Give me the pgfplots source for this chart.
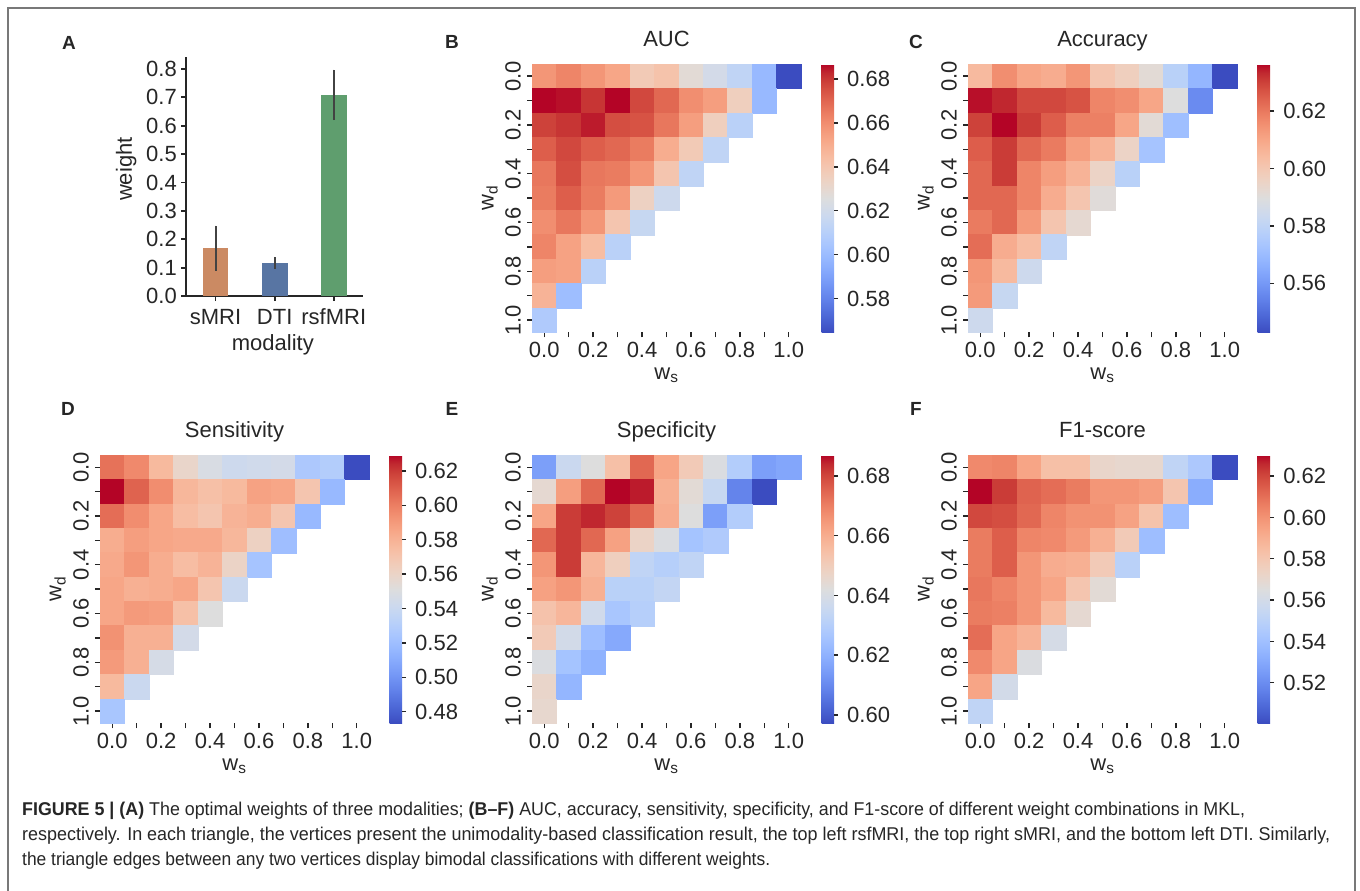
\documentclass[border=0pt]{standalone}
\usepackage{fontspec}
\setmainfont{Liberation Sans}
\usepackage{graphicx}
\usepackage{pgfplots}
\pgfplotsset{compat=1.18}
\usepackage{pgfplotstable}

\definecolor{txt}{RGB}{38,38,38}
\definecolor{barS}{RGB}{203,138,99}
\definecolor{barD}{RGB}{88,117,163}
\definecolor{barR}{RGB}{95,158,110}
\definecolor{errc}{RGB}{66,66,66}
\definecolor{framec}{RGB}{120,120,120}

\pgfkeys{/pgf/number format/assume math mode=true}

\pgfplotsset{
  colormap={coolwarm}{rgb255=(59,76,192) rgb255=(68,90,204) rgb255=(77,104,215) rgb255=(87,117,225)
    rgb255=(98,130,234) rgb255=(108,142,241) rgb255=(119,154,247) rgb255=(130,165,251)
    rgb255=(141,176,254) rgb255=(152,185,255) rgb255=(163,194,255) rgb255=(174,201,253)
    rgb255=(184,208,249) rgb255=(194,213,244) rgb255=(204,217,238) rgb255=(213,219,230)
    rgb255=(221,221,221) rgb255=(229,216,209) rgb255=(236,211,197) rgb255=(241,204,185)
    rgb255=(245,196,173) rgb255=(247,187,160) rgb255=(247,177,148) rgb255=(247,166,135)
    rgb255=(244,154,123) rgb255=(241,141,111) rgb255=(236,127,99) rgb255=(229,112,88)
    rgb255=(222,96,77) rgb255=(213,80,66) rgb255=(203,62,56) rgb255=(192,40,47) rgb255=(180,4,38)},
  hm/.style={
    scale only axis, width=269pt, height=268.3pt, anchor=north west,
    xmin=-0.5, xmax=10.5, ymin=-10.5, ymax=0.5,
    axis line style={draw=none},
    xtick={0,...,10}, xticklabels={0.0,,0.2,,0.4,,0.6,,0.8,,1.0},
    ytick={-10,...,0}, yticklabels={1.0,,0.8,,0.6,,0.4,,0.2,,0.0},
    tick pos=left, tick align=outside, major tick length=5pt,
    tick style={line width=1.4pt, color=txt},
    tick label style={font=\fontsize{22}{26}\selectfont, text=txt, inner sep=0pt},
    xticklabel style={anchor=center, yshift=-12.7pt},
    yticklabel style={xshift=-14pt, rotate=90, anchor=center},
    xlabel={w\textsubscript{s}}, ylabel={w\textsubscript{d}},
    label style={font=\fontsize{22}{26}\selectfont, text=txt},
    xlabel style={at={(axis description cs:0.5,-0.16)}, anchor=center},
    ylabel style={at={(axis description cs:-0.157,0.5)}, anchor=center},
    title style={font=\fontsize{22}{26}\selectfont, text=txt,
      at={(axis description cs:0.5,1)}, anchor=base, yshift=12pt},
    colorbar,
    colorbar style={scale only axis, width=12.5pt, height=268.3pt,
      at={(parent axis.north east)}, anchor=north west, xshift=12pt,
      axis line style={draw=none}, ytick pos=right, yticklabel pos=right,
      tick align=outside, major tick length=4pt,
      tick style={line width=1.4pt, color=txt},
      yticklabel style={font=\fontsize{22}{26}\selectfont, text=txt, inner sep=0pt,
        anchor=west, xshift=9pt,
        /pgf/number format/fixed, /pgf/number format/fixed zerofill,
        /pgf/number format/precision=2}},
  },
  cells/.style={scatter, only marks, mark=square*, mark size=12.3pt,
    mark options={line width=0.3pt},
    scatter/use mapped color={draw=mapped color, fill=mapped color}},
}

% c = w_s index, r = w_d index, v = score
\pgfplotstableread[row sep=\\]{c r v\\
0 0 0.6575\\ 1 0 0.6624\\ 2 0 0.6575\\ 3 0 0.6526\\ 4 0 0.6380\\ 5 0 0.6416\\ 6 0 0.6282\\ 7 0 0.6209\\ 8 0 0.6135\\ 9 0 0.5989\\ 10 0 0.5647\\
0 1 0.6868\\ 1 1 0.6856\\ 2 1 0.6807\\ 3 1 0.6868\\ 4 1 0.6770\\ 5 1 0.6697\\ 6 1 0.6599\\ 7 1 0.6551\\ 8 1 0.6355\\ 9 1 0.5989\\
0 2 0.6783\\ 1 2 0.6807\\ 2 2 0.6844\\ 3 2 0.6758\\ 4 2 0.6746\\ 5 2 0.6660\\ 6 2 0.6551\\ 7 2 0.6355\\ 8 2 0.6111\\
0 3 0.6721\\ 1 3 0.6770\\ 2 3 0.6721\\ 3 3 0.6697\\ 4 3 0.6648\\ 5 3 0.6502\\ 6 3 0.6380\\ 7 3 0.6135\\
0 4 0.6660\\ 1 4 0.6758\\ 2 4 0.6660\\ 3 4 0.6648\\ 4 4 0.6575\\ 5 4 0.6404\\ 6 4 0.6135\\
0 5 0.6648\\ 1 5 0.6721\\ 2 5 0.6648\\ 3 5 0.6563\\ 4 5 0.6343\\ 5 5 0.6184\\
0 6 0.6599\\ 1 6 0.6660\\ 2 6 0.6575\\ 3 6 0.6404\\ 4 6 0.6160\\
0 7 0.6624\\ 1 7 0.6538\\ 2 7 0.6441\\ 3 7 0.6111\\
0 8 0.6551\\ 1 8 0.6538\\ 2 8 0.6111\\
0 9 0.6477\\ 1 9 0.6013\\
0 10 0.6074\\
}\tabAUC

\pgfplotstableread[row sep=\\]{c r v\\
0 0 0.6046\\ 1 0 0.6158\\ 2 0 0.6102\\ 3 0 0.6084\\ 4 0 0.6140\\ 5 0 0.6009\\ 6 0 0.5971\\ 7 0 0.5915\\ 8 0 0.5784\\ 9 0 0.5681\\ 10 0 0.5429\\
0 1 0.6355\\ 1 1 0.6336\\ 2 1 0.6289\\ 3 1 0.6289\\ 4 1 0.6271\\ 5 1 0.6177\\ 6 1 0.6158\\ 7 1 0.6102\\ 8 1 0.5897\\ 9 1 0.5569\\
0 2 0.6299\\ 1 2 0.6364\\ 2 2 0.6308\\ 3 2 0.6252\\ 4 2 0.6186\\ 5 2 0.6186\\ 6 2 0.6102\\ 7 2 0.5915\\ 8 2 0.5710\\
0 3 0.6252\\ 1 3 0.6308\\ 2 3 0.6233\\ 3 3 0.6196\\ 4 3 0.6121\\ 5 3 0.6065\\ 6 3 0.5953\\ 7 3 0.5728\\
0 4 0.6233\\ 1 4 0.6308\\ 2 4 0.6177\\ 3 4 0.6121\\ 4 4 0.6065\\ 5 4 0.5953\\ 6 4 0.5784\\
0 5 0.6233\\ 1 5 0.6233\\ 2 5 0.6177\\ 3 5 0.6084\\ 4 5 0.6009\\ 5 5 0.5906\\
0 6 0.6196\\ 1 6 0.6233\\ 2 6 0.6130\\ 3 6 0.6009\\ 4 6 0.5925\\
0 7 0.6224\\ 1 7 0.6084\\ 2 7 0.6037\\ 3 7 0.5803\\
0 8 0.6140\\ 1 8 0.6046\\ 2 8 0.5840\\
0 9 0.6130\\ 1 9 0.5822\\
0 10 0.5840\\
}\tabACC

\pgfplotstableread[row sep=\\]{c r v\\
0 0 0.6043\\ 1 0 0.5965\\ 2 0 0.5763\\ 3 0 0.5591\\ 4 0 0.5482\\ 5 0 0.5419\\ 6 0 0.5435\\ 7 0 0.5451\\ 8 0 0.5263\\ 9 0 0.5295\\ 10 0 0.4733\\
0 1 0.6293\\ 1 1 0.6090\\ 2 1 0.5950\\ 3 1 0.5778\\ 4 1 0.5731\\ 5 1 0.5763\\ 6 1 0.5872\\ 7 1 0.5856\\ 8 1 0.5700\\ 9 1 0.5170\\
0 2 0.6059\\ 1 2 0.5950\\ 2 2 0.5856\\ 3 2 0.5747\\ 4 2 0.5700\\ 5 2 0.5794\\ 6 2 0.5825\\ 7 2 0.5700\\ 8 2 0.5170\\
0 3 0.5825\\ 1 3 0.5887\\ 2 3 0.5856\\ 3 3 0.5841\\ 4 3 0.5841\\ 5 3 0.5778\\ 6 3 0.5622\\ 7 3 0.5201\\
0 4 0.5841\\ 1 4 0.5919\\ 2 4 0.5825\\ 3 4 0.5747\\ 4 4 0.5794\\ 5 4 0.5607\\ 6 4 0.5232\\
0 5 0.5856\\ 1 5 0.5809\\ 2 5 0.5825\\ 3 5 0.5856\\ 4 5 0.5700\\ 5 5 0.5404\\
0 6 0.5856\\ 1 6 0.5903\\ 2 6 0.5887\\ 3 6 0.5731\\ 4 6 0.5513\\
0 7 0.5934\\ 1 7 0.5809\\ 2 7 0.5809\\ 3 7 0.5451\\
0 8 0.5903\\ 1 8 0.5809\\ 2 8 0.5466\\
0 9 0.5763\\ 1 9 0.5404\\
0 10 0.5248\\
}\tabSEN

\pgfplotstableread[row sep=\\]{c r v\\
0 0 0.6152\\ 1 0 0.6358\\ 2 0 0.6421\\ 3 0 0.6547\\ 4 0 0.6744\\ 5 0 0.6619\\ 6 0 0.6511\\ 7 0 0.6412\\ 8 0 0.6295\\ 9 0 0.6152\\ 10 0 0.6170\\
0 1 0.6448\\ 1 1 0.6637\\ 2 1 0.6744\\ 3 1 0.6870\\ 4 1 0.6852\\ 5 1 0.6592\\ 6 1 0.6439\\ 7 1 0.6349\\ 8 1 0.6089\\ 9 1 0.5972\\
0 2 0.6619\\ 1 2 0.6816\\ 2 2 0.6843\\ 3 2 0.6807\\ 4 2 0.6744\\ 5 2 0.6601\\ 6 2 0.6421\\ 7 2 0.6152\\ 8 2 0.6295\\
0 3 0.6744\\ 1 3 0.6816\\ 2 3 0.6744\\ 3 3 0.6628\\ 4 3 0.6475\\ 5 3 0.6412\\ 6 3 0.6259\\ 7 3 0.6286\\
0 4 0.6654\\ 1 4 0.6816\\ 2 4 0.6574\\ 3 4 0.6493\\ 4 4 0.6331\\ 5 4 0.6304\\ 6 4 0.6331\\
0 5 0.6628\\ 1 5 0.6654\\ 2 5 0.6592\\ 3 5 0.6313\\ 4 5 0.6313\\ 5 5 0.6340\\
0 6 0.6538\\ 1 6 0.6574\\ 2 6 0.6376\\ 3 6 0.6268\\ 4 6 0.6304\\
0 7 0.6511\\ 1 7 0.6385\\ 2 7 0.6241\\ 3 7 0.6179\\
0 8 0.6412\\ 1 8 0.6259\\ 2 8 0.6205\\
0 9 0.6466\\ 1 9 0.6214\\
0 10 0.6457\\
}\tabSPE

\pgfplotstableread[row sep=\\]{c r v\\
0 0 0.6029\\ 1 0 0.6042\\ 2 0 0.5939\\ 3 0 0.5835\\ 4 0 0.5835\\ 5 0 0.5718\\ 6 0 0.5705\\ 7 0 0.5705\\ 8 0 0.5523\\ 9 0 0.5445\\ 10 0 0.5004\\
0 1 0.6302\\ 1 1 0.6224\\ 2 1 0.6133\\ 3 1 0.6107\\ 4 1 0.6068\\ 5 1 0.5990\\ 6 1 0.5990\\ 7 1 0.5965\\ 8 1 0.5809\\ 9 1 0.5316\\
0 2 0.6198\\ 1 2 0.6185\\ 2 2 0.6120\\ 3 2 0.6042\\ 4 2 0.6003\\ 5 2 0.6003\\ 6 2 0.5952\\ 7 2 0.5822\\ 8 2 0.5393\\
0 3 0.6068\\ 1 3 0.6146\\ 2 3 0.6042\\ 3 3 0.6029\\ 4 3 0.5978\\ 5 3 0.5900\\ 6 3 0.5783\\ 7 3 0.5393\\
0 4 0.6068\\ 1 4 0.6146\\ 2 4 0.5990\\ 3 4 0.5913\\ 4 4 0.5900\\ 5 4 0.5783\\ 6 4 0.5497\\
0 5 0.6081\\ 1 5 0.6042\\ 2 5 0.5990\\ 3 5 0.5939\\ 4 5 0.5809\\ 5 5 0.5679\\
0 6 0.6068\\ 1 6 0.6055\\ 2 6 0.5990\\ 3 6 0.5861\\ 4 6 0.5692\\
0 7 0.6107\\ 1 7 0.5939\\ 2 7 0.5887\\ 3 7 0.5614\\
0 8 0.6029\\ 1 8 0.5939\\ 2 8 0.5640\\
0 9 0.5939\\ 1 9 0.5601\\
0 10 0.5523\\
}\tabFONE

% #1 left, #2 top (px from top-left), #3 table, #4 min, #5 max, #6 title, #7 colorbar ticks
\newcommand{\heatmap}[7]{%
  \begin{axis}[hm, at={(#1pt,-#2pt)}, point meta min=#4, point meta max=#5,
      title={#6}, colorbar style={ytick={#7}}]
    \addplot[cells, point meta=\thisrow{v}] table[x=c, y expr=-\thisrow{r}] {#3};
  \end{axis}}

\begin{document}
\begin{tikzpicture}
\path[use as bounding box] (0pt,0pt) rectangle (1360pt,-891pt);
\draw[framec, line width=1.5pt] (8pt,-891pt) -- (8pt,-8pt) -- (1355pt,-8pt) -- (1355pt,-891pt);

% panel A
\begin{axis}[scale only axis, width=177.3pt, height=239.3pt, at={(186pt,-296pt)}, anchor=south west,
    xmin=-0.5, xmax=2.5, ymin=0, ymax=0.8434,
    axis x line*=bottom, axis y line*=left,
    axis line style={-, line width=1.8pt, color=txt},
    xtick={0,1,2}, xticklabels={sMRI,DTI,rsfMRI},
    ytick={0,0.1,0.2,0.3,0.4,0.5,0.6,0.7,0.8},
    tick align=outside, major tick length=5pt,
    tick style={line width=1.8pt, color=txt},
    tick label style={font=\fontsize{22}{26}\selectfont, text=txt, inner sep=0pt},
    xticklabel style={anchor=center, yshift=-15.7pt},
    yticklabel style={anchor=east, xshift=-4pt,
      /pgf/number format/fixed, /pgf/number format/fixed zerofill, /pgf/number format/precision=1},
    xlabel={modality}, ylabel={weight},
    label style={font=\fontsize{22}{26}\selectfont, text=txt},
    xlabel style={at={(axis description cs:0.49,-0.205)}, anchor=center},
    ylabel style={at={(axis description cs:-0.338,0.53)}, anchor=center},
    error bars/error bar style={line width=2pt, color=errc},
    error bars/error mark=none]
  \addplot[ybar, bar width=25.7pt, bar shift=0pt, fill=barS, draw=none,
    error bars/.cd, y dir=both, y explicit]
    coordinates {(0,0.168) += (0,0.080) -= (0,0.079)};
  \addplot[ybar, bar width=25.7pt, bar shift=0pt, fill=barD, draw=none,
    error bars/.cd, y dir=both, y explicit]
    coordinates {(1,0.117) += (0,0.021) -= (0,0.021)};
  \addplot[ybar, bar width=25.7pt, bar shift=0pt, fill=barR, draw=none,
    error bars/.cd, y dir=both, y explicit]
    coordinates {(2,0.708) += (0,0.090) -= (0,0.088)};
\end{axis}

\heatmap{532}{64}{\tabAUC}{0.5647}{0.6868}{AUC}{0.58,0.60,0.62,0.64,0.66,0.68}
\heatmap{968}{64}{\tabACC}{0.5429}{0.6364}{Accuracy}{0.56,0.58,0.60,0.62}
\heatmap{100}{455}{\tabSEN}{0.4733}{0.6293}{Sensitivity}{0.48,0.50,0.52,0.54,0.56,0.58,0.60,0.62}
\heatmap{532}{455}{\tabSPE}{0.5972}{0.6870}{Specificity}{0.60,0.62,0.64,0.66,0.68}
\heatmap{968}{455}{\tabFONE}{0.5004}{0.6302}{F1-score}{0.52,0.54,0.56,0.58,0.60,0.62}

\begin{scope}[every node/.style={font=\fontsize{19}{22}\selectfont\bfseries, text=txt}]
  \node at (69pt,-42.5pt) {A};
  \node at (452pt,-42pt) {B};
  \node at (916pt,-42pt) {C};
  \node at (68pt,-409pt) {D};
  \node at (452pt,-409pt) {E};
  \node at (916pt,-409pt) {F};
\end{scope}

\begin{scope}[every node/.style={font=\fontsize{18.5}{22}\selectfont, text=txt, anchor=base west, inner sep=0pt}]
  \node at (22pt,-815pt) {\resizebox{1223pt}{\height}{\textbf{FIGURE 5 | (A)} The optimal weights of three modalities; \textbf{(B–F)} AUC, accuracy, sensitivity, specificity, and F1-score of different weight combinations in MKL,}};
  \node at (22pt,-840pt) {\resizebox{1308pt}{\height}{respectively. In each triangle, the vertices present the unimodality-based classification result, the top left rsfMRI, the top right sMRI, and the bottom left DTI. Similarly,}};
  \node at (22pt,-865pt) {\resizebox{748pt}{\height}{the triangle edges between any two vertices display bimodal classifications with different weights.}};
\end{scope}
\end{tikzpicture}
\end{document}
